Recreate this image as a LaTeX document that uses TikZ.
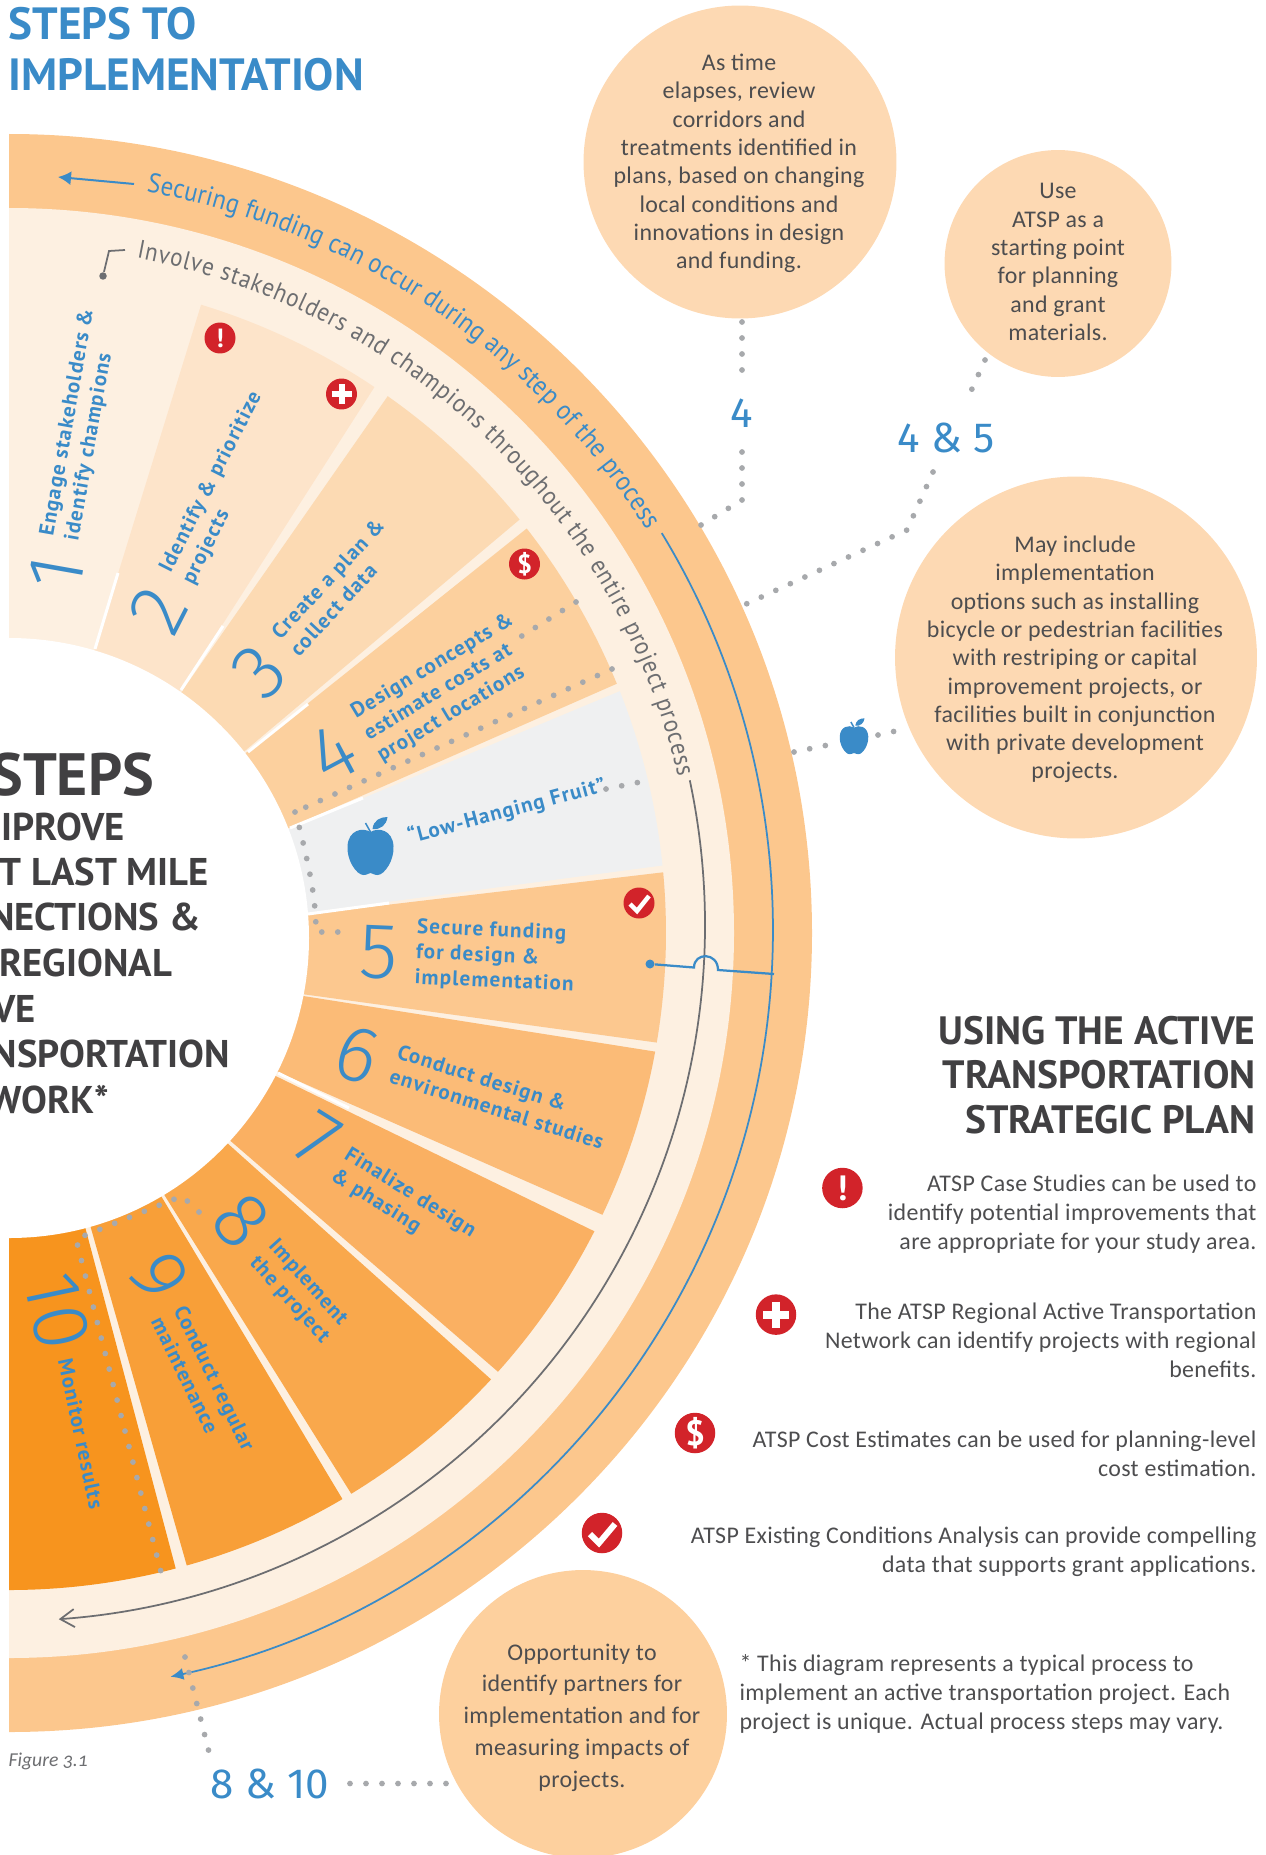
\documentclass[tikz,border=0pt]{standalone}
\usepackage{fontspec}
\usepackage{color}
\usetikzlibrary{calc,arrows.meta,decorations.text}
\setmainfont{Carlito}[LetterSpace=1.5]
\newfontfamily\figfont{Carlito}[Numbers=OldStyle]
\newfontfamily\dinfont{PT Sans}
\newfontfamily\dinspaced{PT Sans}[LetterSpace=5.5]
\newfontfamily\dinarc{PT Sans}[FakeStretch=0.9]
\newfontfamily\dinnum{Fira Sans}
\newfontfamily\dinthin{Fira Sans}[UprightFont={* Light}]
\definecolor{bandorange}{HTML}{FCC78D}
\definecolor{creamband}{HTML}{FDF0E1}
\definecolor{segtwo}{HTML}{FDE4CA}
\definecolor{segthree}{HTML}{FCDAB3}
\definecolor{segfour}{HTML}{FCD09E}
\definecolor{segfruit}{HTML}{EFF0F1}
\definecolor{segfive}{HTML}{FCC88F}
\definecolor{segsix}{HTML}{FBBB77}
\definecolor{segseven}{HTML}{FAB062}
\definecolor{segeight}{HTML}{F9A84C}
\definecolor{segnine}{HTML}{F89F38}
\definecolor{segten}{HTML}{F7941E}
\definecolor{bubblepeach}{HTML}{FDD9B3}
\definecolor{bubbledeep}{HTML}{FDD09E}
\definecolor{txtblue}{HTML}{3A8BC8}
\definecolor{txtdark}{HTML}{414042}
\definecolor{txtgrey}{HTML}{4D4D4F}
\definecolor{arcgrey}{HTML}{6D6E71}
\definecolor{dotgrey}{HTML}{A7A9AC}
\definecolor{iconred}{HTML}{D2232A}
\tikzset{
  dotline/.style={draw=dotgrey, line width=0.115cm, line cap=round, dash pattern=on 0pt off 0.32cm},
  stepnum/.style={font=\dinthin\fontsize{45}{45}\selectfont, text=txtblue, inner sep=0pt},
  steplabel/.style={font=\dinspaced\bfseries\fontsize{12}{14.4}\selectfont, text=txtblue, align=left, anchor=west, inner sep=0pt},
  maintitle/.style={font=\dinfont\bfseries\fontsize{22}{22}\selectfont, text=txtdark, anchor=east, inner sep=0pt},
  sidehead/.style={font=\dinfont\bfseries\fontsize{22.5}{23}\selectfont, text=txtdark, anchor=east, inner sep=0pt},
  bubble/.style={circle, inner sep=0pt, fill=bubblepeach},
  bubbletext/.style={font=\fontsize{13.6}{16.1}\selectfont, text=txtgrey, align=center, inner sep=0pt},
  sidetext/.style={font=\fontsize{13.6}{16.4}\selectfont, text=txtgrey, align=right, anchor=east, inner sep=0pt},
  numlabel/.style={font=\dinnum\fontsize{24}{24}\selectfont, text=txtblue, inner sep=0pt},
  bigicon/.style={circle, fill=iconred, minimum size=0.81cm, inner sep=0pt, text=white, font=\dinfont\bfseries\fontsize{20}{20}\selectfont},
  smallicon/.style={circle, fill=iconred, minimum size=0.62cm, inner sep=0pt, text=white, font=\dinfont\bfseries\fontsize{15}{15}\selectfont},
  apple/.pic={
    \fill[txtblue] (0,-16) .. controls (8,-21) and (22,-18) .. (23,-2) .. controls (24,12) and (14,27) .. (7,27) .. controls (3,27) and (2,25) .. (0,25) .. controls (-2,25) and (-3,27) .. (-7,27) .. controls (-14,27) and (-24,12) .. (-23,-2) .. controls (-22,-18) and (-8,-21) .. (0,-16) -- cycle;
    \fill[txtblue] (2,-19) .. controls (3,-28) and (10,-31) .. (17,-31) .. controls (16,-23) and (10,-18) .. (2,-19) -- cycle;
    \draw[txtblue, line width=0.03cm] (0,-16) -- (-5,-25);
  }
}
\begin{document}
\begin{tikzpicture}[semithick, x=0.02cm, y=-0.02cm]
  \useasboundingbox (0,0) rectangle (1265,1855);

  \begin{scope}[shift={(9,933)}, y=0.02cm]
    \fill[bandorange] (0,799) arc[start angle=90, end angle=-90, x radius=803, y radius=799] -- cycle;
    \fill[creamband] (90:725) arc[start angle=90, end angle=-90, radius=725] -- cycle;
    \fill[segtwo] (73:657) arc[start angle=73, end angle=56.2, radius=657] -- (54.7:290) arc[start angle=54.7, end angle=73.2, radius=290] -- cycle;
    \fill[segthree] (54.8:657) arc[start angle=54.8, end angle=39, radius=657] -- (37.6:290) arc[start angle=37.6, end angle=54.4, radius=290] -- cycle;
    \fill[segfour] (38:657) arc[start angle=38, end angle=22.3, radius=657] -- (20.5:290) arc[start angle=20.5, end angle=37.2, radius=290] -- cycle;
    \fill[segfruit] (21.6:657) arc[start angle=21.6, end angle=5.9, radius=657] -- (3.8:290) arc[start angle=3.8, end angle=20.3, radius=290] -- cycle;
    \fill[segfive] (5.3:657) arc[start angle=5.3, end angle=-9.6, radius=657] -- (-11.9:290) arc[start angle=-11.9, end angle=3.5, radius=290] -- cycle;
    \fill[segsix] (-10.4:657) arc[start angle=-10.4, end angle=-25.4, radius=657] -- (-27.5:290) arc[start angle=-27.5, end angle=-12.2, radius=290] -- cycle;
    \fill[segseven] (-27:657) arc[start angle=-27, end angle=-41.9, radius=657] -- (-43.3:290) arc[start angle=-43.3, end angle=-28.3, radius=290] -- cycle;
    \fill[segeight] (-42.8:657) arc[start angle=-42.8, end angle=-58.6, radius=657] -- (-59.4:290) arc[start angle=-59.4, end angle=-44, radius=290] -- cycle;
    \fill[segnine] (-59.5:657) arc[start angle=-59.5, end angle=-74.3, radius=657] -- (-74.5:290) arc[start angle=-74.5, end angle=-60, radius=290] -- cycle;
    \fill[segten] (-75.3:657) arc[start angle=-75.3, end angle=-90, radius=657] -- (-90:290) arc[start angle=-90, end angle=-75.5, radius=290] -- cycle;
    \path[decorate, decoration={text along path, text align={fit to path},
      text={|\dinarc\fontsize{15.5}{16}\selectfont\color{txtblue}|Securing funding can occur during any step of the process}}]
      (79.5:754) arc[start angle=79.5, end angle=32.3, radius=754];
    \path[decorate, decoration={text along path, text align={fit to path},
      text={|\dinarc\fontsize{14.6}{15}\selectfont\color{arcgrey}|Involve stakeholders and champions throughout the entire project process}}]
      (79.3:687) arc[start angle=79.3, end angle=13.2, radius=687];
  \end{scope}

  \draw[white, line width=0.06cm] (118,573) -- (95,649);
  \draw[white, line width=0.06cm] (223,626) -- (181,690);
  \draw[white, line width=0.06cm] (308,704) -- (248,752);
  \draw[white, line width=0.06cm] (363,798) -- (290,828);
  \draw[white, line width=0.06cm] (389,903) -- (308,914);
  \draw[white, line width=0.06cm] (349,1108) -- (278,1073);
  \fill[white] (9,938) circle (300);

  \begin{scope}[shift={(9,925)}, y=0.02cm]
    \draw[draw=arcgrey, line width=0.035cm, -{Straight Barb[length=0.28cm, width=0.36cm]}] (12:696) arc[start angle=12, end angle=-85.9, radius=696];
  \end{scope}
  \begin{scope}[shift={(9,930)}, y=0.02cm]
    \draw[draw=txtblue, line width=0.035cm, -{Latex[length=0.26cm, width=0.24cm]}] (31.3:764) arc[start angle=31.3, end angle=-77.8, radius=764];
  \end{scope}

  \coordinate (fundA) at (134,184);
  \coordinate (fundB) at (58,177);
  \draw[draw=txtblue, line width=0.04cm, -{Latex[length=0.26cm, width=0.28cm]}] (fundA) -- (fundB);
  \coordinate (involveA) at (125,250);
  \coordinate (involveB) at (109,251);
  \node[circle, fill=arcgrey, minimum size=0.15cm, inner sep=0pt] (involveC) at (103,276) {};
  \draw[draw=arcgrey, line width=0.035cm] (involveA) -- (involveB) -- (involveC);
  \node[circle, fill=txtblue, minimum size=0.18cm, inner sep=0pt] (fundDot) at (650,964) {};
  \coordinate (fundC) at (694,967.5);
  \coordinate (fundD) at (718,970);
  \coordinate (fundE) at (774,974);
  \draw[draw=txtblue, line width=0.045cm] (fundDot) -- (fundC) .. controls (694,952) and (718,952) .. (fundD) -- (fundE);

  \path[dotline] (576,602) edge (521,636.5);
  \path[dotline] (612,669) edge (295,812);
  \draw[dotline] (295,812) -- (299,826) .. controls (310,870) and (316,900) .. (316,932) -- (349,932);
  \path[dotline] (606,789) edge (650,780);
  \draw[dotline] (199,1212) -- (182,1196) -- (76,1239) -- (161,1572);
  \path[dotline] (185,1657) edge (209,1752);
  \draw[dotline] (742,322) -- (742,372);
  \draw[dotline] (742,452) -- (742,500) -- (697,527.5);
  \draw[dotline] (985,360) -- (967,400);
  \draw[dotline] (933,472) -- (907,530) -- (744,605);
  \draw[dotline] (794,752) -- (828,745);
  \draw[dotline] (878,735) -- (909,728);
  \draw[dotline] (350,1783.5) -- (450,1783.5);

  \node[bubble, minimum size=6.26cm] (bubbleFour) at (740,162) {};
  \node[bubble, minimum size=4.54cm] (bubbleFive) at (1058,263.5) {};
  \node[bubble, minimum size=7.24cm] (bubbleFruit) at (1076,657.5) {};
  \node[bubble, fill=bubbledeep, minimum size=5.76cm] (bubbleTen) at (583,1714) {};
  \node[bubbletext] (textFour) at (739,163.5) {As time\\elapses, review\\corridors and\\treatments identified in\\plans, based on changing\\local conditions and\\innovations in design\\and funding.};
  \node[bubbletext] (textFive) at (1058,262) {Use\\ATSP as a\\starting point\\for planning\\and grant\\materials.};
  \node[bubbletext] (textFruit) at (1075,659.5) {May include\\implementation\\options such as installing\\bicycle or pedestrian facilities\\with restriping or capital\\improvement projects, or\\facilities built in conjunction\\with private development\\projects.};
  \node[bubbletext, font=\fontsize{13.6}{18.1}\selectfont] (textTen) at (582,1717.5) {Opportunity to\\identify partners for\\implementation and for\\measuring impacts of\\projects.};

  \node[numlabel] (labelFour) at (742,413) {4};
  \node[numlabel] (labelFourFive) at (946,438) {4 \& 5};
  \node[numlabel] (labelEightTen) at (270,1783.5) {8 \& 10};
  \pic (appleSmall) at (854,737.5) [scale=0.62] {apple};
  \pic (appleBig) at (370.5,848) {apple};

  \node[stepnum, rotate=80] (numOne) at (56,573) {1};
  \node[stepnum, rotate=63] (numTwo) at (158.5,610) {2};
  \node[stepnum, rotate=47] (numThree) at (259,671.6) {3};
  \node[stepnum, rotate=28] (numFour) at (333,753) {4};
  \node[stepnum, rotate=-2.5] (numFive) at (378.5,953) {5};
  \node[stepnum, rotate=-18] (numSix) at (357,1055) {6};
  \node[stepnum, rotate=-32] (numSeven) at (318,1140) {7};
  \node[stepnum, rotate=-48] (numEight) at (241,1221) {8};
  \node[stepnum, rotate=-64] (numNine) at (159,1277) {9};
  \node[stepnum, rotate=-78] (numTen) at (57,1311) {10};

  \node[steplabel, rotate=80] (stepOne) at (60.3,538.5) {Engage stakeholders \&\\identify champions};
  \node[steplabel, rotate=63] (stepTwo) at (177,577.5) {Identify \& prioritize\\projects};
  \node[steplabel, rotate=47] (stepThree) at (284,644) {Create a plan \&\\collect data};
  \node[steplabel, rotate=31] (stepFour) at (366,736) {Design concepts \&\\estimate costs at\\project locations};
  \node[steplabel, rotate=15] (stepFruit) at (408,838) {“Low-Hanging Fruit”};
  \node[steplabel, rotate=-2.5] (stepFive) at (415.5,953) {Secure funding\\for design \&\\implementation};
  \node[steplabel, rotate=-17.6] (stepSix) at (394,1063) {Conduct design \&\\environmental studies};
  \node[steplabel, rotate=-32] (stepSeven) at (339,1164) {Finalize design\\\& phasing};
  \node[steplabel, rotate=-48] (stepEight) at (262,1251) {Implement\\the project};
  \node[steplabel, rotate=-64] (stepNine) at (168.5,1312) {Conduct regular\\maintenance};
  \node[steplabel, rotate=-78] (stepTen) at (65,1358.6) {Monitor results};

  \node[smallicon] (iconCase) at (220,338) {!};
  \node[smallicon] (iconNet) at (341.5,394) {};
  \draw[white, line width=0.12cm] ($(iconNet)+(-10,0)$) -- ($(iconNet)+(10,0)$);
  \draw[white, line width=0.12cm] ($(iconNet)+(0,-10)$) -- ($(iconNet)+(0,10)$);
  \node[smallicon] (iconCost) at (524.5,564) {\$};
  \node[smallicon] (iconData) at (639,903) {};
  \draw[white, line width=0.09cm] ($(iconData)+(-9,1)$) -- ($(iconData)+(-2,8)$) -- ($(iconData)+(10,-7)$);

  \node[bigicon] (keyCase) at (842.4,1188) {!};
  \node[bigicon] (keyNet) at (776,1314.6) {};
  \draw[white, line width=0.16cm] ($(keyNet)+(-13,0)$) -- ($(keyNet)+(13,0)$);
  \draw[white, line width=0.16cm] ($(keyNet)+(0,-13)$) -- ($(keyNet)+(0,13)$);
  \node[bigicon] (keyCost) at (695,1433) {\$};
  \node[bigicon] (keyData) at (602,1533) {};
  \draw[white, line width=0.12cm] ($(keyData)+(-12,1)$) -- ($(keyData)+(-3,10)$) -- ($(keyData)+(13,-9)$);

  \node[sidetext] (noteCase) at (1257,1214) {ATSP Case Studies can be used to\\identify potential improvements that\\are appropriate for your study area.};
  \node[sidetext] (noteNet) at (1257,1340) {The ATSP Regional Active Transportation\\Network can identify projects with regional\\benefits.};
  \node[sidetext] (noteCost) at (1257,1453.5) {ATSP Cost Estimates can be used for planning-level\\cost estimation.};
  \node[sidetext] (noteData) at (1257,1552) {ATSP Existing Conditions Analysis can provide compelling\\data that supports grant applications.};
  \node[sidetext, align=left, anchor=west] (noteStar) at (739,1694) {* This diagram represents a typical process to\\implement an active transportation project. Each\\project is unique. Actual process steps may vary.};

  \node[font=\dinfont\bfseries\fontsize{25.7}{29}\selectfont, text=txtblue, align=left, anchor=north west, inner sep=0pt] (mainHead) at (8,7) {STEPS TO\\IMPLEMENTATION};
  \node[maintitle, font=\dinfont\bfseries\fontsize{34}{34}\selectfont] (titleA) at (154.5,775) {STEPS};
  \node[maintitle] (titleB) at (125,827) {IPROVE};
  \node[maintitle] (titleC) at (209.5,872) {T LAST MILE};
  \node[maintitle] (titleD) at (201,917) {NECTIONS \&};
  \node[maintitle] (titleE) at (172.5,963) {REGIONAL};
  \node[maintitle] (titleF) at (36.4,1009) {VE};
  \node[maintitle] (titleG) at (230.7,1054) {NSPORTATION};
  \node[maintitle] (titleH) at (109.5,1100) {WORK*};
  \node[sidehead] (useA) at (1256,1031) {USING THE ACTIVE};
  \node[sidehead] (useB) at (1256,1075) {TRANSPORTATION};
  \node[sidehead] (useC) at (1256,1120) {STRATEGIC PLAN};
  \node[font=\figfont\itshape\fontsize{11.2}{12}\selectfont, text=arcgrey, anchor=west, inner sep=0pt] (figNote) at (8,1761) {Figure 3.1};
\end{tikzpicture}
\end{document}
